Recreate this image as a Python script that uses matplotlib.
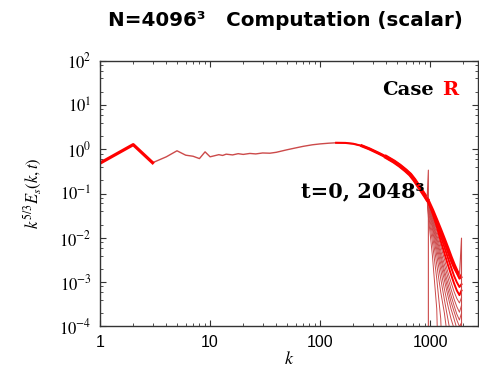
import numpy as np
import matplotlib
matplotlib.use('Agg')
from matplotlib import pyplot as plt
from matplotlib.ticker import FixedLocator, LogLocator, NullFormatter

plt.rcParams['mathtext.fontset'] = 'stix'

# common part of the compensated spectrum (all times overlap here)
body_k = [1, 2, 3, 4, 5, 6, 7, 8, 9, 10, 11, 12, 13, 14, 16, 18, 20, 23, 26, 30,
          35, 40, 50, 60, 70, 85, 100, 120, 140, 170, 200, 240, 280, 340, 400,
          470, 530, 600, 660, 720, 780, 840, 900, 940]
body_E = [0.49, 1.28, 0.50, 0.68, 0.93, 0.74, 0.70, 0.62, 0.88, 0.68, 0.72, 0.76,
          0.73, 0.78, 0.75, 0.80, 0.77, 0.81, 0.79, 0.83, 0.82, 0.86, 0.98, 1.08,
          1.17, 1.27, 1.33, 1.38, 1.41, 1.40, 1.34, 1.20, 1.03, 0.82, 0.67, 0.53,
          0.43, 0.335, 0.27, 0.205, 0.152, 0.115, 0.089, 0.075]

# t=0 field interpolated from 2048^3: pile-up at its kmax then nothing
t0_k = [940, 965, 965]
t0_E = [0.075, 0.34, 1e-9]

# tails beyond k=965 at successive times (early -> late)
tail_k = [965, 1050, 1150, 1250, 1350, 1450, 1550, 1650, 1750, 1850, 1931]
tail_E = [
    [0.030, 0.0040, 2.5e-4, 1e-7, 1e-8, 1e-8, 1e-8, 1e-8, 1e-8, 1e-8, 1e-8],
    [0.036, 0.0080, 0.0012, 1.5e-4, 1e-6, 1e-8, 1e-8, 1e-8, 1e-8, 1e-8, 1e-8],
    [0.042, 0.0120, 0.0025, 6.0e-4, 2.0e-4, 5e-5, 1e-7, 1e-8, 1e-8, 1e-8, 1e-8],
    [0.047, 0.0160, 0.0040, 0.0012, 4.0e-4, 1.5e-4, 6e-5, 1e-6, 1e-8, 1e-8, 1e-8],
    [0.051, 0.0190, 0.0055, 0.0019, 7.0e-4, 3.0e-4, 1.5e-4, 9e-5, 1e-6, 1e-8, 1e-8],
    [0.055, 0.0220, 0.0070, 0.0026, 0.0011, 5.0e-4, 2.5e-4, 1.5e-4, 9e-5, 8e-5, 1.2e-4],
    [0.058, 0.0250, 0.0085, 0.0034, 0.0015, 7.0e-4, 3.6e-4, 2.2e-4, 1.4e-4, 1.0e-4, 1.2e-4],
    [0.060, 0.0280, 0.0100, 0.0042, 0.0019, 9.5e-4, 5.0e-4, 3.0e-4, 1.9e-4, 1.4e-4, 2.0e-4],
    [0.062, 0.0310, 0.0120, 0.0052, 0.0025, 0.0013, 7.0e-4, 4.2e-4, 2.8e-4, 2.1e-4, 3.0e-4],
    [0.064, 0.0340, 0.0145, 0.0066, 0.0033, 0.0017, 0.0010, 6.2e-4, 4.3e-4, 3.4e-4, 4.5e-4],
    [0.065, 0.0370, 0.0180, 0.0085, 0.0045, 0.0025, 0.0015, 9.5e-4, 6.5e-4, 5.1e-4, 6.5e-4],
    [0.066, 0.0400, 0.0210, 0.0110, 0.0062, 0.0036, 0.0022, 0.0014, 0.0010, 7.8e-4, 9.0e-4],
    [0.067, 0.0420, 0.0240, 0.0135, 0.0080, 0.0048, 0.0030, 0.0021, 0.0016, 0.0012, 0.0013],
]
# last time: bottleneck pile-up at kmax of 4096^3, then cut
final_k = [965, 1050, 1150, 1250, 1350, 1450, 1550, 1650, 1750, 1850, 1931, 1931]
final_E = [0.068, 0.043, 0.025, 0.015, 0.0092, 0.0058, 0.0037, 0.0025, 0.0018,
           0.0014, 0.0099, 1e-9]

thin = '#cc4a4a'
red = '#ff0000'

fig = plt.figure(figsize=(4.79, 3.71), dpi=100)
ax = fig.add_axes([0.209, 0.12, 0.789, 0.716])

ax.plot(body_k, body_E, color=thin, lw=1.0)
ax.plot(body_k[:3], body_E[:3], color=red, lw=2.3)
ax.plot(body_k[28:], body_E[28:], color=red, lw=1.5, solid_joinstyle='round')
ax.plot(body_k[31:], body_E[31:], color=red, lw=2.2, solid_joinstyle='round')
ax.plot(body_k[34:], body_E[34:], color=red, lw=3.0, solid_joinstyle='round')
ax.plot(t0_k, t0_E, color=thin, lw=0.8)

for i, tE in enumerate(tail_E):
    lw = 0.7 if i < 10 else 1.4
    col = thin if i < 10 else red
    ax.plot([body_k[-1]] + tail_k, [body_E[-1]] + tE, color=col, lw=lw)
ax.plot([body_k[-1]] + final_k[:-2], [body_E[-1]] + final_E[:-2], color=red,
        lw=2.4, solid_joinstyle='round')
ax.plot(final_k[-3:], final_E[-3:], color=thin, lw=0.8)

ax.set_xscale('log')
ax.set_yscale('log')
ax.set_xlim(1, 2730)
ax.set_ylim(1e-4, 1e2)

ax.xaxis.set_major_locator(FixedLocator([1, 10, 100, 1000]))
ax.set_xticklabels(['1', '10', '100', '1000'], fontsize=11.5,
                   family='Liberation Sans')
ax.xaxis.set_minor_locator(LogLocator(base=10, subs=np.arange(2, 10)))
ax.xaxis.set_minor_formatter(NullFormatter())
yt = [1e-4, 1e-3, 1e-2, 1e-1, 1e0, 1e1, 1e2]
ax.yaxis.set_major_locator(FixedLocator(yt))
ax.set_yticklabels(['$10^{%d}$' % p for p in range(-4, 3)], fontsize=12)
ax.yaxis.set_minor_locator(LogLocator(base=10, subs=[2, 4, 6, 8]))
ax.yaxis.set_minor_formatter(NullFormatter())
ax.tick_params(which='both', direction='in', top=True, right=True,
               color='#333333', pad=6)
ax.tick_params(which='major', length=4, width=0.8)
ax.tick_params(which='minor', length=2.5, width=0.6)
for s in ax.spines.values():
    s.set_color('#333333')
    s.set_linewidth(1.0)

ax.set_xlabel('$k$', fontsize=13, labelpad=0)
ax.set_ylabel('$k^{5/3}E_s(k,t)$', fontsize=12, labelpad=11)

fig.text(0.595, 0.945, 'N=4096³   Computation (scalar)',
         ha='center', va='center', fontsize=14.3, fontweight='bold',
         family='DejaVu Sans')
ax.text(0.745, 0.89, 'Case', transform=ax.transAxes, fontsize=14,
        fontweight='bold', family='DejaVu Serif', va='center')
ax.text(0.905, 0.89, 'R', transform=ax.transAxes, fontsize=14,
        fontweight='bold', family='DejaVu Serif', color=red, va='center')
ax.text(0.532, 0.51, 't=0, 2048³', transform=ax.transAxes,
        fontsize=15, fontweight='bold', family='DejaVu Serif', va='center')

fig.savefig('out.png', dpi=100)
